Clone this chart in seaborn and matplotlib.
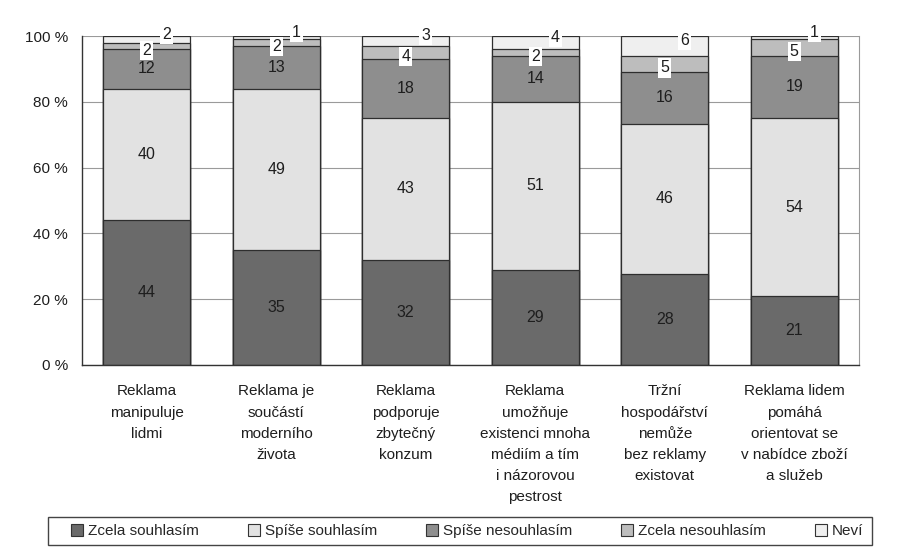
import matplotlib
matplotlib.use("Agg")
import matplotlib.pyplot as plt
from matplotlib.patches import Patch, Rectangle
from matplotlib.ticker import FixedLocator, FuncFormatter
import numpy as np
import pandas as pd
import seaborn as sns

# Survey statements (x categories)
categories = [
    "Reklama\nmanipuluje\nlidmi",
    "Reklama je\nsoučástí\nmoderního\nživota",
    "Reklama\npodporuje\nzbytečný\nkonzum",
    "Reklama\numožňuje\nexistenci mnoha\nmédiím a tím\ni názorovou\npestrost",
    "Tržní\nhospodářství\nnemůže\nbez reklamy\nexistovat",
    "Reklama lidem\npomáhá\norientovat se\nv nabídce zboží\na služeb",
]

# Answer shares in percent
zcela_souhlasim = [44, 35, 32, 29, 28, 21]
spise_souhlasim = [40, 49, 43, 51, 46, 54]
spise_nesouhlasim = [12, 13, 18, 14, 16, 19]
zcela_nesouhlasim = [2, 2, 4, 2, 5, 5]
nevi = [2, 1, 3, 4, 6, 1]

series_names = ["Zcela souhlasím", "Spíše souhlasím", "Spíše nesouhlasím",
                "Zcela nesouhlasím", "Neví"]
series_values = [zcela_souhlasim, spise_souhlasim, spise_nesouhlasim,
                 zcela_nesouhlasim, nevi]
series_colors = ["#6a6a6a", "#e2e2e2", "#8e8e8e", "#bdbdbd", "#efefef"]

sns.set_style("white")
plt.rcParams["font.family"] = ["Liberation Sans", "DejaVu Sans"]
plt.rcParams["font.size"] = 11

# 100 % stacked: normalise each column to its total
raw = np.array(series_values, dtype=float)
share = raw / raw.sum(axis=0) * 100
cum = np.cumsum(share, axis=0)

df = pd.DataFrame({"kategorie": categories})
for i, name in enumerate(series_names):
    df[name] = cum[i]

fig = plt.figure(figsize=(8.99, 5.53), dpi=100)
ax = fig.add_axes([82 / 899, 1 - 365 / 553, 777 / 899, 329 / 553])

# draw cumulative bars from the tallest down so lower segments cover upper ones
for i in range(len(series_names) - 1, -1, -1):
    sns.barplot(data=df, x="kategorie", y=series_names[i], order=categories,
                color=series_colors[i], saturation=1, width=0.67,
                edgecolor="#2e2e2e", linewidth=0.9, ax=ax, zorder=2)

# value labels
for j in range(len(categories)):
    bottoms = np.concatenate([[0], cum[:, j]])
    for i in range(len(series_names)):
        yc = (bottoms[i] + bottoms[i + 1]) / 2
        val = int(raw[i, j])
        if i < 3:
            ax.text(j, yc, str(val), ha="center", va="center", fontsize=11.5,
                    color="#1e1e1e", zorder=5)
        elif i == 3:
            ax.text(j, yc - 1.3, str(val), ha="center", va="center",
                    fontsize=11.5, color="#1e1e1e", zorder=6,
                    bbox=dict(facecolor="white", edgecolor="none", pad=1.5))
        else:
            ax.text(j + 0.155, yc + 1.6, str(val), ha="center", va="center",
                    fontsize=11.5, color="#1e1e1e", zorder=6, clip_on=False,
                    bbox=dict(facecolor="white", edgecolor="none", pad=1.5))

ax.set_xlim(-0.5, len(categories) - 0.5)
ax.set_ylim(0, 100)
ax.set_xlabel("")
ax.set_ylabel("")

ax.yaxis.set_major_locator(FixedLocator([0, 20, 40, 60, 80, 100]))
ax.yaxis.set_major_formatter(FuncFormatter(lambda v, p: f"{int(v)} %"))
ax.yaxis.grid(True, color="#9a9a9a", linewidth=0.8, zorder=0)
ax.set_axisbelow(True)

ax.set_xticks(range(len(categories)))
ax.set_xticklabels(categories, linespacing=1.65, va="top")
ax.xaxis.set_minor_locator(FixedLocator(np.arange(-0.5, len(categories), 1.0)))
ax.tick_params(axis="x", which="major", length=0, pad=14, labelsize=11,
               labelcolor="#1e1e1e")
ax.tick_params(axis="x", which="minor", length=6, width=1, color="#333333",
               direction="out")
ax.tick_params(axis="y", length=6, width=1, color="#333333", direction="out",
               pad=4, labelsize=11, labelcolor="#1e1e1e")

for side in ["left", "bottom"]:
    ax.spines[side].set_color("#333333")
    ax.spines[side].set_linewidth(1.0)
ax.spines["top"].set_visible(False)
ax.spines["right"].set_color("#9a9a9a")
ax.spines["right"].set_linewidth(0.8)

# legend box along the bottom
fig.patches.append(Rectangle((48 / 899, 1 - 545 / 553), 824 / 899, 28 / 553,
                             transform=fig.transFigure, facecolor="white",
                             edgecolor="#444444", linewidth=1.0, zorder=0))
handles = [Patch(facecolor=c, edgecolor="#333333", linewidth=0.8)
           for c in series_colors]
fig.legend(handles, series_names, ncol=5, loc="center", mode="expand",
           bbox_to_anchor=(68 / 899, 1 - 545 / 553, 798 / 899, 28 / 553),
           frameon=False, handlelength=0.8, handleheight=0.8,
           handletextpad=0.3, borderaxespad=0, fontsize=11, borderpad=0.2)

fig.savefig("out.png", dpi=100, facecolor="white")
